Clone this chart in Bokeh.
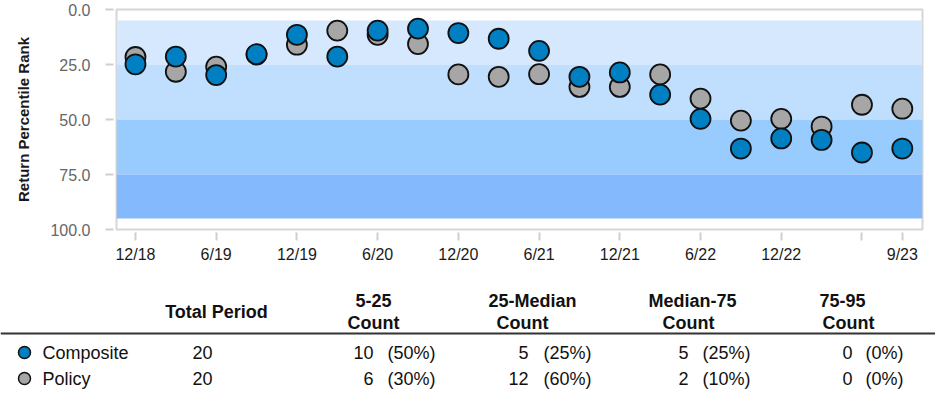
from bokeh.plotting import figure
from bokeh.models import (Range1d, FixedTicker, BoxAnnotation, Span,
                          ColumnDataSource)
from bokeh.core.properties import value
from bokeh.embed import file_html
from bokeh.resources import INLINE

# ---- data -----------------------------------------------------------------
quarters = ["12/18", "3/19", "6/19", "9/19", "12/19", "3/20", "6/20", "9/20",
            "12/20", "3/21", "6/21", "9/21", "12/21", "3/22", "6/22", "9/22",
            "12/22", "3/23", "6/23", "9/23"]
composite = [24.9, 21.4, 29.8, 20.3, 11.5, 21.4, 9.6, 8.7, 10.7, 13.3,
             18.8, 30.6, 28.6, 38.7, 49.7, 63.2, 58.6, 59.3, 65.0, 63.2]
policy = [21.6, 28.3, 26.0, 20.5, 16.0, 9.6, 11.5, 15.7, 29.5, 30.6,
          29.4, 35.2, 35.2, 29.5, 40.5, 50.5, 49.7, 53.2, 43.3, 45.1]
series_names = ["Composite", "Policy"]
band_edges = [5, 25, 50, 75, 95]
band_names = ["5-25", "25-Median", "Median-75", "75-95"]
y_ticks = [0, 25, 50, 75, 100]
label_ticks = [0, 2, 4, 6, 8, 10, 12, 14, 16, 18, 19]
hidden_ticks = [18]

# ---- styling --------------------------------------------------------------
FONT = "Liberation Sans"
BAND_COLORS = ["#D5E8FE", "#C0DEFE", "#99CCFE", "#84B9FE"]
SERIES_COLORS = {"Composite": "#0080C3", "Policy": "#A6A6A6"}
TICK_GREY = "#CFCFCF"

W = 935
TOP_H = 272
BOT_H = 393 - TOP_H

x = list(range(len(quarters)))
x_lo, x_hi = -0.47, len(quarters) - 0.5

p = figure(width=W, height=TOP_H, output_backend="svg", toolbar_location=None,
           x_range=Range1d(x_lo, x_hi), y_range=Range1d(100, 0),
           min_border_left=116, min_border_right=13, min_border_top=9,
           min_border_bottom=TOP_H - 229)
p.background_fill_color = "white"
p.border_fill_color = "white"
p.outline_line_color = "#D6D6D6"
p.outline_line_width = 2
p.xgrid.visible = False
p.ygrid.visible = False

# percentile bands
for (lo, hi), col in zip(zip(band_edges[:-1], band_edges[1:]), BAND_COLORS):
    p.add_layout(BoxAnnotation(top=lo, bottom=hi, fill_color=col, fill_alpha=1.0,
                               line_color=None, level="underlay"))

# points: policy first, composite on top
for name, vals in (("Policy", policy), ("Composite", composite)):
    p.scatter(x=x, y=vals, size=20, fill_color=SERIES_COLORS[name],
              line_color="#111111", line_width=1.8)

# x axis
xa = p.xaxis[0]
xa.ticker = FixedTicker(ticks=label_ticks)
xa.major_label_overrides = {i: ("" if i in hidden_ticks else quarters[i])
                            for i in label_ticks}
xa.axis_line_color = None
xa.major_tick_in = -3
xa.major_tick_out = 11
xa.major_tick_line_color = TICK_GREY
xa.major_tick_line_width = 2
xa.minor_tick_line_color = None
xa.major_label_standoff = 5
xa.major_label_text_font = FONT
xa.major_label_text_font_size = "16px"
xa.major_label_text_color = "#1A1A1A"

# y axis
ya = p.yaxis[0]
ya.ticker = FixedTicker(ticks=y_ticks)
ya.major_label_overrides = {t: f"{t:.1f}" for t in y_ticks}
ya.axis_line_color = None
ya.major_tick_in = -3
ya.major_tick_out = 11
ya.major_tick_line_color = TICK_GREY
ya.major_tick_line_width = 2
ya.minor_tick_line_color = None
ya.major_label_standoff = 15
ya.major_label_text_font = FONT
ya.major_label_text_font_size = "16px"
ya.major_label_text_color = "#666666"
ya.axis_label = "Return Percentile Rank"
ya.axis_label_text_font = FONT
ya.axis_label_text_font_style = "bold"
ya.axis_label_text_font_size = "15px"
ya.axis_label_text_color = "#1A1A1A"
ya.axis_label_standoff = 15

# ---- summary table --------------------------------------------------------
def band_counts(vals):
    out = []
    for i, (lo, hi) in enumerate(zip(band_edges[:-1], band_edges[1:])):
        if i == 0:
            out.append(sum(1 for v in vals if lo <= v <= hi))
        else:
            out.append(sum(1 for v in vals if lo < v <= hi))
    return out

t = figure(width=W, height=BOT_H, output_backend="svg", toolbar_location=None,
           x_range=Range1d(0, W), y_range=Range1d(393, TOP_H),
           x_axis_type=None, y_axis_type=None,
           min_border_left=0, min_border_right=0, min_border_top=0,
           min_border_bottom=0)
t.outline_line_color = None
t.xgrid.visible = False
t.ygrid.visible = False
t.background_fill_color = "white"
t.border_fill_color = "white"

TXT = "18px"
head_top, head_bot, head_mid = 300, 322, 311.7
total_head_x = 216
band_head_x = [373, 532, 692, 842]
count_head_x = [373, 522, 688, 848]
num_right_x = [373, 528, 688, 852]
pct_left_x = [387, 543, 702, 865]
total_x = 202
name_x, marker_x = 42, 24
row_y = [352, 378]

hx, hy, htxt = [total_head_x], [head_mid], ["Total Period"]
for bx, cx, name in zip(band_head_x, count_head_x, band_names):
    hx += [bx, cx]
    hy += [head_top, head_bot]
    htxt += [name, "Count"]
t.text(x="x", y="y", text="text", source=ColumnDataSource(dict(x=hx, y=hy, text=htxt)),
       text_align="center", text_baseline="middle", text_font=value(FONT),
       text_font_style="bold", text_font_size=value(TXT), text_color="#111111")

t.add_layout(Span(location=333, dimension="width", line_color="#333333",
                  line_width=2))

names_x, names_y, names_t = [], [], []
tot_x, tot_y, tot_t = [], [], []
nx_, ny_, nt_ = [], [], []
px_, py_, pt_ = [], [], []
for ry, name, vals in zip(row_y, series_names, (composite, policy)):
    n = len(vals)
    t.scatter(x=[marker_x], y=[ry], size=12, fill_color=SERIES_COLORS[name],
              line_color="#111111", line_width=1.5)
    names_x.append(name_x); names_y.append(ry); names_t.append(name)
    tot_x.append(total_x); tot_y.append(ry); tot_t.append(str(n))
    for c, rx, lx in zip(band_counts(vals), num_right_x, pct_left_x):
        nx_.append(rx); ny_.append(ry); nt_.append(str(c))
        px_.append(lx); py_.append(ry); pt_.append(f"({round(100 * c / n)}%)")

common = dict(text_baseline="middle", text_font=value(FONT),
              text_font_size=value(TXT), text_color="#111111")
t.text(x="x", y="y", text="text",
       source=ColumnDataSource(dict(x=names_x, y=names_y, text=names_t)),
       text_align="left", **common)
t.text(x="x", y="y", text="text",
       source=ColumnDataSource(dict(x=tot_x, y=tot_y, text=tot_t)),
       text_align="center", **common)
t.text(x="x", y="y", text="text",
       source=ColumnDataSource(dict(x=nx_, y=ny_, text=nt_)),
       text_align="right", **common)
t.text(x="x", y="y", text="text",
       source=ColumnDataSource(dict(x=px_, y=py_, text=pt_)),
       text_align="left", **common)

# two independent roots stacked on the page, so their frames are not aligned
open("out.html", "w").write(file_html((p, t), INLINE))
